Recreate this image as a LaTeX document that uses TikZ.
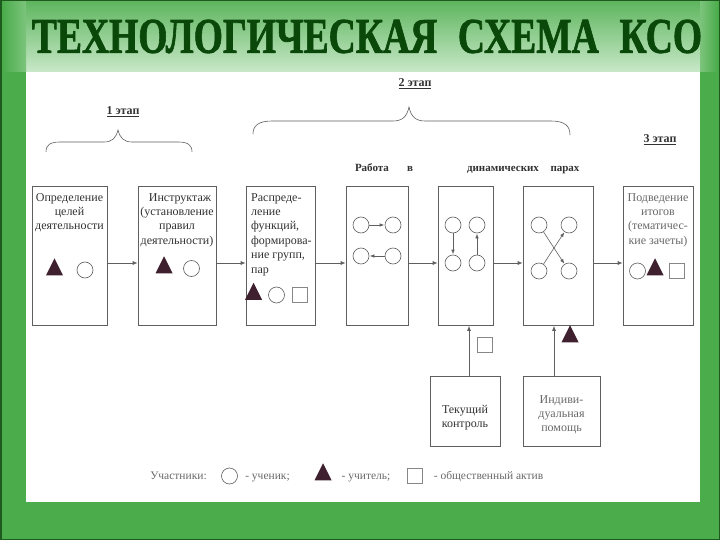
\documentclass[tikz,border=0pt]{standalone}
\usepackage{fontspec}
\setmainfont{Liberation Serif}
\newfontfamily\titlefont[FakeBold=1.6]{Liberation Serif Bold}
\usetikzlibrary{shapes.geometric,arrows.meta,calc}
\definecolor{frameg}{RGB}{74,172,74}
\definecolor{frametop}{RGB}{96,182,96}
\definecolor{framelight}{RGB}{200,232,200}
\definecolor{framedark}{RGB}{30,90,30}
\definecolor{titleg}{RGB}{10,72,10}
\definecolor{linegray}{RGB}{95,95,95}
\definecolor{textgray}{RGB}{50,50,50}
\definecolor{lightgray}{RGB}{105,105,105}
\definecolor{triag}{RGB}{62,32,46}
\begin{document}
\begin{tikzpicture}[x=1pt,y=-1pt,
  box/.style={draw=linegray, line width=0.7pt, minimum height=139pt, inner sep=0pt},
  sbox/.style={draw=linegray, line width=0.7pt, minimum height=70pt, inner sep=0pt},
  stud/.style={circle, draw=linegray, line width=0.6pt, minimum size=16pt, inner sep=0pt},
  teach/.style={isosceles triangle, isosceles triangle stretches=true, shape border rotate=90,
     fill=triag, minimum width=17pt, minimum height=17pt, inner sep=0pt},
  act/.style={rectangle, draw=linegray!75, line width=0.6pt, minimum size=15pt, inner sep=0pt},
  arr/.style={draw=linegray, line width=0.7pt, -{Latex[length=5pt,width=4pt]}},
  sarr/.style={draw=linegray, line width=0.6pt, -{Latex[length=4.5pt,width=3.5pt]}, shorten >=0.5pt},
  brace/.style={draw=linegray, line width=0.6pt},
  txt/.style={font=\fontsize{12}{14.4}\selectfont, text=textgray, align=center, inner sep=0pt, anchor=north},
  ltxt/.style={txt, text=lightgray},
  stage/.style={font=\fontsize{12}{14}\selectfont\bfseries, text=textgray, inner sep=0pt},
  work/.style={font=\fontsize{11}{12}\selectfont\bfseries, text=textgray, inner sep=0pt, anchor=base},
  leg/.style={font=\fontsize{11.5}{13}\selectfont, text=lightgray, inner sep=0pt, anchor=base}
]
\useasboundingbox (0,0) rectangle (720,540);
% background frame
\fill[frameg] (0,0) rectangle (720,540);
\shade[top color=frametop, bottom color=framelight] (12,2) rectangle (710,72);
\shade[left color=frameg, right color=frameg!60!framelight] (2,2) rectangle (26,72);
\shade[left color=frameg!60!framelight, right color=frameg] (700,2) rectangle (718,72);
\draw[framedark, line width=1.5pt] (0.75,0.75) rectangle (719.25,539.25);
\fill[white] (26,72) rectangle (700,502);
% title
\node[inner sep=0pt, text=titleg] (title) at (367,36.5)
  {\resizebox{670pt}{33pt}{\titlefont ТЕХНОЛОГИЧЕСКАЯ\hspace{0.55em}СХЕМА\hspace{0.55em}КСО}};
% stage labels
\node[stage] (s1) at (123,112) {\underline{1 этап}};
\node[stage] (s2) at (415,84) {\underline{2 этап}};
\node[stage] (s3) at (660,140) {\underline{3 этап}};
% braces
\draw[brace] (46,152) .. controls (46,145) and (50,142) .. (60,142) -- (104,142)
  .. controls (112,142) and (116,138) .. (118,130) .. controls (120,138) and (124,142) .. (132,142)
  -- (178,142) .. controls (188,142) and (192,145) .. (192,152);
\draw[brace] (253,134) .. controls (253,126) and (258,121) .. (272,121) -- (393,121)
  .. controls (403,121) and (407,116) .. (409,107) .. controls (411,116) and (415,121) .. (425,121)
  -- (551,121) .. controls (565,121) and (570,126) .. (570,135);
% work in pairs heading
\node[work] (w1) at (372,172) {Работа};
\node[work] (w2) at (410,172) {в};
\node[work] (w3) at (503,172) {динамических};
\node[work] (w4) at (565,172) {парах};
% main boxes
\node[box, minimum width=75pt] (b1) at (69.5,256) {};
\node[box, minimum width=78pt] (b2) at (177,256) {};
\node[box, minimum width=69pt] (b3) at (280.5,256) {};
\node[box, minimum width=62pt] (b4) at (377,256) {};
\node[box, minimum width=55pt] (b5) at (465.5,256) {};
\node[box, minimum width=70pt] (b6) at (558,256) {};
\node[box, minimum width=70pt] (b7) at (658,256) {};
% box texts
\node[txt] (t1) at (69.5,193) {Определение\\целей\\деятельности};
\node[txt] (t2) at (177,193) {\hspace{6pt}Инструктаж\\(установление\\правил\\деятельности)};
\node[txt, align=left, anchor=north west] (t3) at (251,193) {Распреде-\\ление\\функций,\\формирова-\\ние групп,\\пар};
\node[ltxt] (t7) at (658,193) {Подведение\\итогов\\(тематичес-\\кие зачеты)};
% participants in boxes
\node[teach] (tr1) at (54.5,270) {};
\node[stud] (st1) at (85,270) {};
\node[teach] (tr2) at (164,268) {};
\node[stud] (st2) at (191.5,268.5) {};
\node[teach] (tr3) at (253.5,294.5) {};
\node[stud] (st3) at (276.5,295) {};
\node[act] (ac3) at (300,294.5) {};
\node[stud] (st7) at (637.5,271) {};
\node[teach] (tr7) at (655,270) {};
\node[act] (ac7) at (677,271) {};
% box 4 pairs
\node[stud] (c41) at (361,225) {};
\node[stud] (c42) at (393,225) {};
\node[stud] (c43) at (361,256) {};
\node[stud] (c44) at (393,256) {};
\draw[sarr] (c41) -- (c42);
\draw[sarr] (c44) -- (c43);
% box 5 pairs
\node[stud] (c51) at (453,225) {};
\node[stud] (c52) at (477,225) {};
\node[stud] (c53) at (453,263) {};
\node[stud] (c54) at (477,263) {};
\draw[sarr] (c51) -- (c53);
\draw[sarr] (c54) -- (c52);
% box 6 pairs
\node[stud] (c61) at (539,225) {};
\node[stud] (c62) at (569,225) {};
\node[stud] (c63) at (539,271) {};
\node[stud] (c64) at (569,271) {};
\draw[sarr] (c61) -- (c64);
\draw[sarr] (c63) -- (c62);
% horizontal connectors
\coordinate (ay) at (0,263);
\draw[arr] (b1.east |- ay) -- (b2.west |- ay);
\draw[arr] (b2.east |- ay) -- (b3.west |- ay);
\draw[arr] (b3.east |- ay) -- (b4.west |- ay);
\draw[arr] (b4.east |- ay) -- (b5.west |- ay);
\draw[arr] (b5.east |- ay) -- (b6.west |- ay);
\draw[arr] (b6.east |- ay) -- (b7.west |- ay);
% bottom boxes
\node[sbox, minimum width=70pt] (bt1) at (465,411) {};
\node[sbox, minimum width=77pt] (bt2) at (561.5,411) {};
\node[txt] (tt1) at (465,405) {Текущий\\контроль};
\node[ltxt] (tt2) at (561.5,395) {Индиви-\\дуальная\\помощь};
\coordinate (v1) at (469,0);
\coordinate (v2) at (554,0);
\draw[arr] (bt1.north -| v1) -- (b5.south -| v1);
\draw[arr] (bt2.north -| v2) -- (b6.south -| v2);
\node[act] (ac5) at (485,344.5) {};
\node[teach] (tr6) at (570,337) {};
% legend
\node[leg] (l1) at (178.5,479) {Участники:};
\node[stud] (lc) at (229.5,476) {};
\node[leg] (l2) at (267.5,479) {- ученик;};
\node[teach] (lt) at (323,475) {};
\node[leg] (l3) at (366,479) {- учитель;};
\node[act] (la) at (414.5,476) {};
\node[leg] (l4) at (488.5,479) {- общественный актив};
\end{tikzpicture}
\end{document}
